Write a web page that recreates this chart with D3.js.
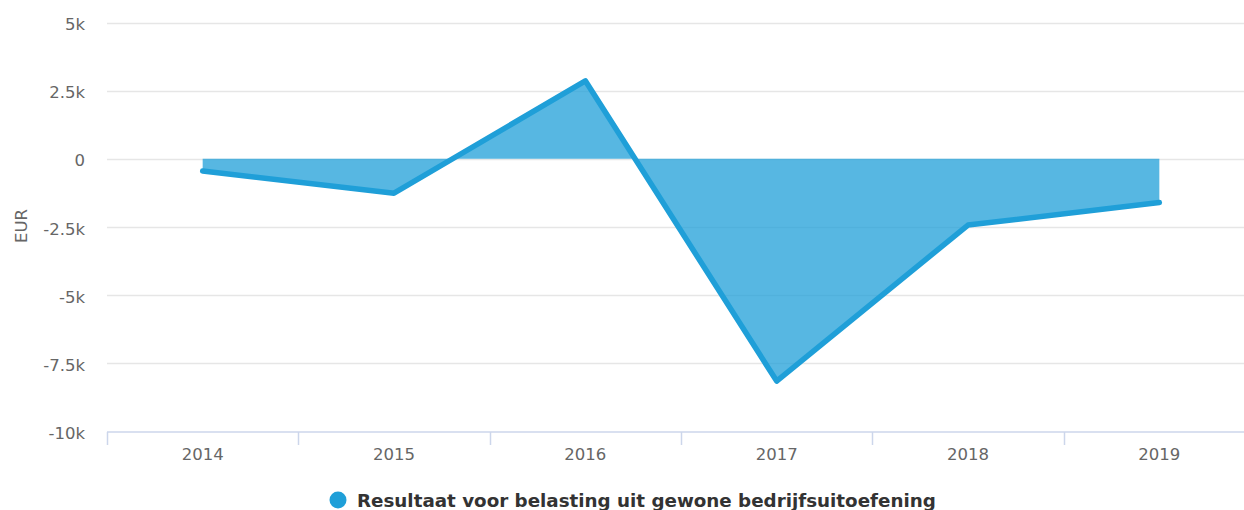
<!DOCTYPE html>
<html><head><meta charset="utf-8">
<script src="https://cdn.jsdelivr.net/npm/d3@7"></script>
<style>body{margin:0;background:#fff;overflow:hidden}text{font-family:"DejaVu Sans",sans-serif}</style>
</head><body><svg id="c" width="1244" height="510"></svg>
<script>
const categories = ["2014","2015","2016","2017","2018","2019"];
const values = [-450, -1260, 2860, -8150, -2430, -1600];
const yTicks = [5000, 2500, 0, -2500, -5000, -7500, -10000];
const yTickLabels = ["5k","2.5k","0","-2.5k","-5k","-7.5k","-10k"];
const seriesName = "Resultaat voor belasting uit gewone bedrijfsuitoefening";
const yTitle = "EUR";

const svg = d3.select("#c");
const x = d3.scaleBand().domain(categories).range([107, 1255]);
const y = d3.scaleLinear().domain([-10000, 5000]).range([431.5, 22.5]);
const cx = d => x(d) + x.bandwidth()/2;

svg.append("g").selectAll("line").data(yTicks.filter(t=>t!==-10000)).join("line")
  .attr("x1",107).attr("x2",1244).attr("y1",d=>Math.round(y(d))+0.5).attr("y2",d=>Math.round(y(d))+0.5)
  .attr("stroke","#e6e6e6").attr("stroke-width",1.5);
svg.append("g").selectAll("text").data(yTicks).join("text")
  .attr("x",85).attr("y",d=>y(d)+7.5).attr("text-anchor","end")
  .attr("fill","#666").attr("font-size",16.5).text((d,i)=>yTickLabels[i]);
svg.append("text").attr("transform","translate(27,226) rotate(-90)").attr("text-anchor","middle")
  .attr("fill","#666").attr("font-size",16.5).text(yTitle);

svg.append("line").attr("x1",107).attr("x2",1244).attr("y1",432).attr("y2",432).attr("stroke","#ccd6eb").attr("stroke-width",1.5);
svg.append("g").selectAll("line").data(categories).join("line")
  .attr("x1",d=>Math.round(x(d))+0.5).attr("x2",d=>Math.round(x(d))+0.5).attr("y1",432).attr("y2",445)
  .attr("stroke","#ccd6eb").attr("stroke-width",1.5);
svg.append("g").selectAll("text").data(categories).join("text")
  .attr("x",cx).attr("y",460).attr("text-anchor","middle").attr("fill","#666").attr("font-size",16.5).text(d=>d);

const pts = categories.map((c,i)=>({c, v:values[i]}));
const area = d3.area().x(d=>cx(d.c)).y0(y(0)).y1(d=>y(d.v));
svg.append("path").datum(pts).attr("d",area).attr("fill","#1f9fd8").attr("fill-opacity",0.75);
const line = d3.line().x(d=>cx(d.c)).y(d=>y(d.v));
svg.append("path").datum(pts).attr("d",line).attr("fill","none").attr("stroke","#1f9fd8")
  .attr("stroke-width",5.5).attr("stroke-linecap","round").attr("stroke-linejoin","round");

svg.append("circle").attr("cx",338).attr("cy",500).attr("r",8.5).attr("fill","#1f9fd8");
svg.append("text").attr("x",357).attr("y",507).attr("font-size",18.3).attr("font-weight","bold").attr("fill","#333").text(seriesName);
</script></body></html>
